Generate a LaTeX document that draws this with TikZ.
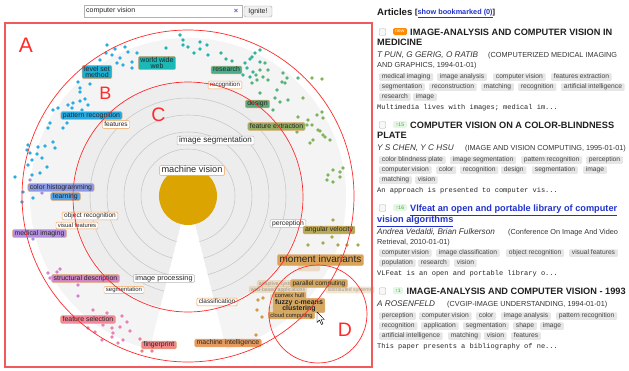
\documentclass[tikz,border=0pt]{standalone}
\usepackage{fontspec}
\setmainfont{Liberation Sans}
\setmonofont{Liberation Mono}
\newcommand\myfs[1]{\fontsize{#1}{#1}\selectfont}
\newcommand\myfsb[2]{\fontsize{#1}{#2}\selectfont}
\definecolor{panelred}{HTML}{F05A5A}
\definecolor{annred}{HTML}{FF2B2B}
\definecolor{goldc}{HTML}{DBA400}
\definecolor{diskout}{HTML}{F4F4F4}
\definecolor{diskin}{HTML}{EDEDED}
\definecolor{ringc}{HTML}{C6C6C6}
\definecolor{labborder}{HTML}{E0A870}
\definecolor{orlab}{HTML}{F2A050}
\definecolor{tagbg}{HTML}{E6E6E6}
\definecolor{linkblue}{HTML}{2233CC}
\definecolor{badgeor}{HTML}{FF8A00}
\definecolor{badgegr}{HTML}{E4F6E4}
\definecolor{badgegt}{HTML}{33AA33}
% dot colours
\definecolor{dBlue}{HTML}{27ADE2}
\definecolor{dTeal}{HTML}{1DB6B2}
\definecolor{dTG}{HTML}{35B398}
\definecolor{dGreen}{HTML}{58B27A}
\definecolor{dLG}{HTML}{80B45C}
\definecolor{dOlive}{HTML}{AAA84C}
\definecolor{dOrange}{HTML}{CF9A4A}
\definecolor{dPurple}{HTML}{A68DE2}
\definecolor{dPP}{HTML}{D282CE}
\definecolor{dPink}{HTML}{E882B6}
\definecolor{dRed}{HTML}{F0808E}
% label fills
\definecolor{fLSM}{HTML}{1CB0D6}
\definecolor{fWWW}{HTML}{1BB8B8}
\definecolor{fRes}{HTML}{4CAE8A}
\definecolor{fDes}{HTML}{62A878}
\definecolor{fFE}{HTML}{93B062}
\definecolor{fAV}{HTML}{B8A955}
\definecolor{fMom}{HTML}{D9A358}
\definecolor{fMI}{HTML}{E89A5C}
\definecolor{fFP}{HTML}{F0878A}
\definecolor{fFS}{HTML}{F2889A}
\definecolor{fSD}{HTML}{D386C8}
\definecolor{fMed}{HTML}{B48FE0}
\definecolor{fCH}{HTML}{8C9AE4}
\definecolor{fLea}{HTML}{4FA3E6}
\definecolor{fPR}{HTML}{28A9E0}
\definecolor{fTan}{HTML}{D4A860}
\begin{document}
\begin{tikzpicture}[x=1pt,y=-1pt,
  clab/.style={rounded corners=1.2pt, draw=labborder, line width=0.45pt, inner xsep=2pt, inner ysep=0.7pt, text=black!85, font=\myfs{6.9}, align=center},
  oneline/.style={text height=4.9pt, text depth=1.4pt},
  wlab/.style={clab, oneline, fill=white, draw=orlab},
  glab/.style={clab, oneline, fill=white, draw=gray!55},
  fadelab/.style={clab, oneline, fill=fTan, draw=none, fill opacity=0.3, text opacity=0.4, font=\myfs{5.2}, inner ysep=0.2pt},
  rtag/.style={fill=tagbg, rounded corners=1pt, inner xsep=2.7pt, inner ysep=0.6pt, text height=4.9pt, text depth=1.4pt, font=\myfs{6.7}, text=black!72, anchor=west},
  ttl/.style={anchor=base west, inner sep=0, font=\bfseries\myfs{9.2}, text=black!88},
  auth/.style={anchor=base west, inner sep=0, font=\itshape\myfs{8.2}, text=black!80},
  jour/.style={anchor=base west, inner sep=0, font=\myfs{7.3}, text=black!80},
  abst/.style={anchor=base west, inner sep=0, font=\ttfamily\myfs{7}, text=black!85},
  chk/.style={draw=gray!60, fill=gray!6, rounded corners=0.8pt, minimum size=6.5pt, inner sep=0},
  badge/.style={rounded corners=1.5pt, inner sep=0, minimum width=14pt, minimum height=7pt, font=\myfs{5}},
  annl/.style={text=annred, inner sep=0},
  annc/.style={draw=annred, line width=0.7pt},
]
\useasboundingbox (0,0) rectangle (629,370);
\fill[white] (0,0) rectangle (629,370);

% ---------- search bar ----------
\node[draw=gray!60, fill=white, minimum width=158pt, minimum height=12pt, inner sep=0, anchor=north west] (sbox) at (84,5) {};
\node[anchor=west, inner sep=0, font=\myfs{7}, text=black!85] (stext) at (86,11) {computer vision};
\node[inner sep=0, font=\bfseries\myfs{7.5}, text=linkblue!80] (sx) at (236,11) {×};
\node[draw=gray!65, fill=gray!12, rounded corners=1.5pt, minimum width=28pt, minimum height=11pt, inner sep=0, font=\myfs{7}, text=black!85] (ignite) at (258,11.5) {Ignite!};

% ---------- radial view ----------
\coordinate (ctr) at (188,196);
\fill[diskout] (ctr) circle (158);
\fill[diskin] (ctr) circle (114);
\foreach \r in {47,64,81,98} \draw[ringc, line width=0.55pt] (ctr) circle (\r);
\fill[white] (ctr) -- ++(76:162) arc[start angle=76, end angle=104, radius=162] -- cycle;
\fill[goldc] (ctr) circle (29);

% dots
\foreach \x/\y in {107/45,115/49,125/47,106/53,100/60,112/55,120/58,128/52,132/62,137/53,123/65,117/63,132/68,
  78/82,90/84,80/88,80/92,85/99,80/101,73/103,68/105,58/108,53/110,72/108,82/110,88/105,
  50/123,48/128,63/128,67/123,53/142,55/148,28/145,38/147,45/146,27/150,32/160,42/158,47/167,28/165,40/173,32/175,15/177,30/153,37/154,
  23/192,22/202,33/198}
  \fill[dBlue] (\x,\y) circle (1.8);
\foreach \x/\y in {166/48,180/35,183/40,183/45,188/47,194/53,200/42,207/45,200/49,208/55}
  \fill[dTeal] (\x,\y) circle (1.8);
\foreach \x/\y in {221/53,226/59,232/61,245/63,250/59,255/53,260/50,252/57,260/62,247/68,253/72,243/75,250/77}
  \fill[dTG] (\x,\y) circle (1.8);
\foreach \x/\y in {260/70,256/75,265/63,268/70,263/77,257/80,252/83,268/80,283/73,287/78,285/83,277/90,282/82,298/78,260/93,275/98,280/102,288/100,273/110}
  \fill[dGreen] (\x,\y) circle (1.8);
\foreach \x/\y in {312/78,322/79,303/98,322/112,317/115,308/120,298/117,323/118,297/132,318/130,323/135,310/143,
  307/125,312/125,320/131,325/137,330/140,313/140,328/175,333/170,340/172,343/168,327/180,333/182,340/177}
  \fill[dLG] (\x,\y) circle (1.8);
\foreach \x/\y in {333/220,308/245,323/243,338/245,347/245,358/245,332/237}
  \fill[dOlive] (\x,\y) circle (1.8);
\foreach \x/\y in {258/300,263/298,262/317,257/310,256/335}
  \fill[dOrange] (\x,\y) circle (1.8);
\foreach \x/\y in {33/239,30/180,42/193}
  \fill[dPurple] (\x,\y) circle (1.8);
\foreach \x/\y in {60/269,57/272,48/273,50/278,78/285,78/296}
  \fill[dPP] (\x,\y) circle (1.8);
\foreach \x/\y in {93/310,107/313,122/316,127/322,100/317,103/325,112/328,120/327,130/331,88/328,95/332,113/333,112/337,102/340,123/340,118/343}
  \fill[dPink] (\x,\y) circle (1.8);
\foreach \x/\y in {140/339,142/351,152/351}
  \fill[dRed] (\x,\y) circle (1.8);

% faded labels (D area)
\node[fadelab] (fa1) at (279,283.5) {adaptive systems};
\node[fadelab] (fa2) at (278,289.5) {web-based applications};
\node[fadelab] (fa3) at (350,290) {distributed systems};
\node[fadelab, minimum width=22pt] (fa4) at (309,268) {};
\node[fadelab, minimum width=12pt] (fa5) at (276,297.5) {};
\node[fadelab, minimum width=12pt] (fa6) at (277,304.5) {};
\node[fadelab, minimum width=12pt] (fa7) at (274,310) {};

% labels
\node[clab, fill=fLSM, font={\myfsb{7}{6.6}}] (lsm) at (97,72) {level set\\method};
\node[clab, fill=fWWW, font={\myfsb{7}{6.6}}] (www) at (157,63) {world wide\\web};
\node[clab, oneline, fill=fRes] (res) at (226.5,70) {research};
\node[wlab, font=\myfs{6.1}] (rec) at (225,85) {recognition};
\node[clab, oneline, fill=fDes] (des) at (257.5,104) {design};
\node[clab, oneline, fill=fPR] (pr) at (91.5,115.5) {pattern recognition};
\node[wlab, font=\myfs{6.5}] (feat) at (116,124.5) {features};
\node[clab, oneline, fill=fFE] (fe) at (276.5,126.5) {feature extraction};
\node[glab, font=\myfs{8.1}, text height=5.8pt, text depth=1.7pt] (iseg) at (215.5,140.5) {image segmentation};
\node[wlab, font=\myfs{9.2}, text height=6.6pt, text depth=1.9pt] (mv) at (192,170.5) {machine vision};
\node[clab, oneline, fill=fCH] (ch) at (61,187.5) {color histogramming};
\node[clab, oneline, fill=fLea, inner xsep=2.5pt] (lea) at (65.5,196.5) {learning};
\node[wlab, font=\myfs{6.6}] (orec) at (90,216) {object recognition};
\node[wlab, font=\myfs{5.9}, inner ysep=0.3pt] (vf) at (77,225.5) {visual features};
\node[clab, oneline, fill=fMed] (med) at (39.5,233.5) {medical imaging};
\node[glab, font=\myfs{6.8}] (perc) at (288,223.5) {perception};
\node[clab, oneline, fill=fAV] (av) at (329,230) {angular velocity};
\node[clab, fill=fMom, font=\myfs{10}, text height=7pt, text depth=2pt, inner ysep=1pt] (mom) at (320.5,260) {moment invariants};
\node[clab, oneline, fill=fSD] (sd) at (85.5,278.5) {structural description};
\node[glab, font=\myfs{7.3}] (ip) at (164,278.5) {image processing};
\node[wlab, font=\myfs{6}, inner ysep=0.4pt] (seg) at (124,290) {segmentation};
\node[wlab, font=\myfs{6.4}] (cls) at (217,302) {classification};
\node[clab, oneline, fill=fTan, font=\myfs{6.5}] (par) at (319,283.5) {parallel computing};
\node[clab, oneline, fill=fTan, font=\myfs{5.8}, inner ysep=0.3pt] (cvx) at (289.5,295.5) {convex hull};
\node[clab, fill=fTan, font={\bfseries\myfsb{7}{6.6}}, inner ysep=0.6pt] (fcm) at (299,305.5) {fuzzy c-means\\clustering};
\node[clab, oneline, fill=fTan, font=\myfs{5.8}, inner ysep=0.2pt] (cc) at (291.5,315.5) {cloud computing};
\node[clab, oneline, fill=fFS] (fs) at (88,319.5) {feature selection};
\node[clab, oneline, fill=fFP] (fp) at (159,345) {fingerprint};
\node[clab, oneline, fill=fMI] (mi) at (228,343) {machine intelligence};

% annotations
\draw[panelred, line width=1.1pt] (5,23) rectangle (372,367);
\draw[annc] (ctr) circle (166);
\draw[annc] (188,197) circle (115);
\draw[annc] (318,314) circle (49);
\node[annl, font=\myfs{21}] (la) at (26,45.5) {A};
\node[annl, font=\myfs{18}] (lb) at (105.5,93.5) {B};
\node[annl, font=\myfs{19.5}] (lc) at (158.5,115) {C};
\node[annl, font=\myfs{19.5}] (ld) at (345,330) {D};

% mouse cursor
\coordinate (cur) at (317,312);
\filldraw[fill=white, draw=black, line width=0.45pt, line join=round]
  (cur) -- ++(0,10.5) -- ++(2.4,-2.4) -- ++(2,4.4) -- ++(1.6,-0.7) -- ++(-2,-4.3) -- ++(3.4,0) -- cycle;

% ---------- articles ----------
\node[anchor=base west, inner sep=0, font=\bfseries\myfs{9.6}, text=black!90] (arthd) at (377,15) {Articles};
\node[anchor=base west, inner sep=0, font=\bfseries\myfs{7.3}] (showbm) at (415,14.5) {[\textcolor{linkblue}{\underline{show bookmarked (0)}}]};

% article 1
\node[chk] (c1) at (382.5,32) {};
\node[badge, fill=badgeor, text=white] (b1) at (400,31.5) {new};
\node[ttl] (a1t1) at (410,35.3) {IMAGE-ANALYSIS AND COMPUTER VISION IN};
\node[ttl] (a1t2) at (377,45.3) {MEDICINE};
\node[auth] (a1au) at (377,57) {T PUN, G GERIG, O RATIB};
\node[jour] (a1j1) at (488,57) {(COMPUTERIZED MEDICAL IMAGING};
\node[jour] (a1j2) at (377,67) {AND GRAPHICS, 1994-01-01)};
\foreach \x/\t [count=\i] in {379/medical imaging,437/image analysis,493/computer vision,551/features extraction}
  \node[rtag] (a1ra\i) at (\x,77) {\t};
\foreach \x/\t [count=\i] in {379/segmentation,429/reconstruction,481/matching,518/recognition,561/artificial intelligence}
  \node[rtag] (a1rb\i) at (\x,87) {\t};
\foreach \x/\t [count=\i] in {379/research,413/image}
  \node[rtag] (a1rc\i) at (\x,97) {\t};
\node[abst] (a1ab) at (377,109.5) {Multimedia lives with images; medical im...};

% article 2
\node[chk] (c2) at (382.5,125) {};
\node[badge, fill=badgegr, text=badgegt] (b2) at (400,124.5) {↑15};
\node[ttl] (a2t1) at (410,128.3) {COMPUTER VISION ON A COLOR-BLINDNESS};
\node[ttl] (a2t2) at (377,138.3) {PLATE};
\node[auth] (a2au) at (377,150) {Y S CHEN, Y C HSU};
\node[jour] (a2j1) at (465,150) {(IMAGE AND VISION COMPUTING, 1995-01-01)};
\foreach \x/\t [count=\i] in {379/color blindness plate,450/image segmentation,521/pattern recognition,586/perception}
  \node[rtag] (a2ra\i) at (\x,160) {\t};
\foreach \x/\t [count=\i] in {379/computer vision,436/color,460/recognition,501/design,532/segmentation,583/image}
  \node[rtag] (a2rb\i) at (\x,170) {\t};
\foreach \x/\t [count=\i] in {379/matching,415/vision}
  \node[rtag] (a2rc\i) at (\x,180) {\t};
\node[abst] (a2ab) at (377,192.5) {An approach is presented to computer vis...};

% article 3
\node[chk] (c3) at (382.5,208) {};
\node[badge, fill=badgegr, text=badgegt] (b3) at (400,207.5) {↑16};
\node[ttl, text=linkblue] (a3t1) at (410,211.5) {\underline{Vlfeat an open and portable library of computer}};
\node[ttl, text=linkblue] (a3t2) at (377,222.5) {\underline{vision algorithms}};
\node[auth] (a3au) at (377,234) {Andrea Vedaldi, Brian Fulkerson};
\node[jour] (a3j1) at (508,234) {(Conference On Image And Video};
\node[jour] (a3j2) at (377,244) {Retrieval, 2010-01-01)};
\foreach \x/\t [count=\i] in {379/computer vision,436/image classification,506/object recognition,569/visual features}
  \node[rtag] (a3ra\i) at (\x,253) {\t};
\foreach \x/\t [count=\i] in {379/population,418/research,454/vision}
  \node[rtag] (a3rb\i) at (\x,263) {\t};
\node[abst] (a3ab) at (377,275.5) {VLFeat is an open and portable library o...};

% article 4
\node[chk] (c4) at (382.5,291) {};
\node[badge, fill=badgegr, text=badgegt, minimum width=10pt] (b4) at (398,290.5) {↑1};
\node[ttl] (a4t1) at (406.5,294.3) {IMAGE-ANALYSIS AND COMPUTER VISION - 1993};
\node[auth] (a4au) at (377,306) {A ROSENFELD};
\node[jour] (a4j1) at (447,306) {(CVGIP-IMAGE UNDERSTANDING, 1994-01-01)};
\foreach \x/\t [count=\i] in {379/perception,419/computer vision,476/color,501/image analysis,556/pattern recognition}
  \node[rtag] (a4ra\i) at (\x,316) {\t};
\foreach \x/\t [count=\i] in {379/recognition,421/application,463/segmentation,513/shape,540/image}
  \node[rtag] (a4rb\i) at (\x,326) {\t};
\foreach \x/\t [count=\i] in {379/artificial intelligence,448/matching,484/vision,511/features}
  \node[rtag] (a4rc\i) at (\x,336) {\t};
\node[abst] (a4ab) at (377,348.5) {This paper presents a bibliography of ne...};
\end{tikzpicture}
\end{document}
